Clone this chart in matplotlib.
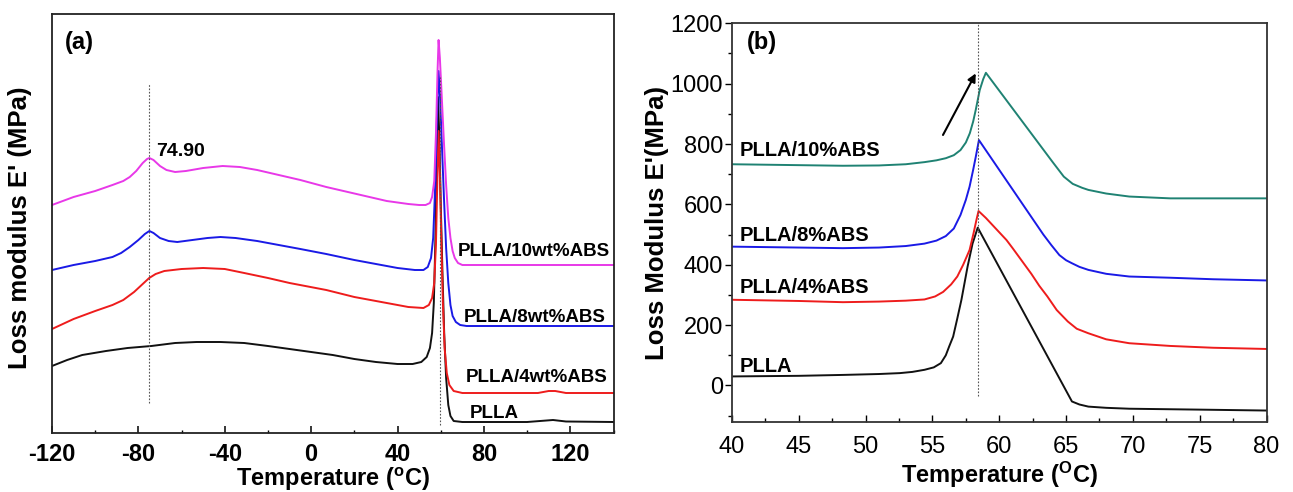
import matplotlib
matplotlib.use("Agg")
import matplotlib.pyplot as plt
from matplotlib.ticker import MultipleLocator

plt.rcParams['font.family'] = ['Liberation Sans', 'DejaVu Sans']
plt.rcParams['mathtext.fontset'] = 'custom'
plt.rcParams['mathtext.rm'] = 'Liberation Sans:bold'
plt.rcParams['mathtext.it'] = 'Liberation Sans:bold'
plt.rcParams['mathtext.bf'] = 'Liberation Sans:bold'

# ---------------- Panel (a) data (arbitrary units) ----------------
a_pllaT = [-120, -113, -106, -95, -85, -74, -63, -53, -42, -31, -20, -10, 0, 10, 20, 30, 40, 47,
           51, 53.5, 55, 56, 56.8, 57.5, 58.1, 58.7, 59.3, 60, 60.8, 61.6, 62.5, 63.5, 64.5, 66,
           70, 100, 106, 112, 118, 140]
a_pllaY = [67, 73, 78, 82, 85, 87, 90, 91, 91, 90, 87, 84, 81, 78, 74, 71, 69, 69,
           71, 76, 85, 100, 130, 190, 270, 336, 300, 230, 160, 100, 55, 28, 17, 12,
           11, 11, 12, 13, 11.5, 11]

a_4T = [-120, -110, -100, -92, -87, -82, -78, -75, -72, -68, -60, -50, -40, -31, -20, -10, 7, 20,
        35, 45, 52, 54.5, 56, 57, 57.8, 58.4, 59, 59.6, 60.3, 61, 61.8, 62.8, 64, 66, 70, 105,
        110, 113, 118, 140]
a_4Y = [104, 114, 122, 128, 133, 141, 149, 155, 159, 162, 164, 165, 164, 160, 155, 150, 143, 136,
        130, 126, 125, 128, 135, 150, 190, 250, 302, 260, 190, 130, 85, 60, 48, 42, 40, 40,
        42, 42, 40, 40]

a_8T = [-120, -110, -100, -92, -88, -84, -80, -77, -74.9, -73, -70, -66, -62, -55, -48, -42, -35,
        -25, -15, -5, 7, 20, 30, 40, 48, 52, 54, 55.5, 56.5, 57.5, 58.3, 59, 59.7, 60.5, 61.5,
        62.5, 63.5, 64.5, 65.5, 67, 69, 72, 140]
a_8Y = [163, 168, 172, 176, 180, 186, 193, 199, 202, 200, 195, 192, 191, 193, 195, 196, 195,
        192, 188, 184, 179, 173, 169, 165, 163, 163, 166, 175, 195, 250, 320, 362, 335, 290, 235,
        185, 150, 128, 117, 111, 108, 107, 107]

a_10T = [-120, -110, -100, -92, -87, -84, -81, -78, -76, -74.9, -73, -70, -67, -63, -58, -50, -41,
         -33, -25, -15, -5, 7, 15, 25, 35, 45, 50, 53, 55, 56, 57, 57.8, 58.5, 59, 59.6, 60.5,
         61.5, 62.5, 63.5, 64.5, 65.5, 66.5, 68, 70, 140]
a_10Y = [228, 236, 242, 248, 252, 256, 262, 270, 274, 275, 273, 267, 263, 261, 262, 265, 267,
         266, 263, 258, 253, 246, 242, 237, 232, 229, 228, 228, 230, 236, 252, 300, 360, 393, 375,
         335, 290, 248, 215, 195, 182, 175, 170, 168, 168]

a_xticks = [-120, -80, -40, 0, 40, 80, 120]
a_labels = ['PLLA/10wt%ABS', 'PLLA/8wt%ABS', 'PLLA/4wt%ABS', 'PLLA']
a_labelT = [68.0, 70.5, 71.5, 73.5]
a_labelY = [181, 115, 56, 19]
a_peak_text = '74.90'
a_vlines = [-74.9, 59.5]

# ---------------- Panel (b) data (MPa) ----------------
b_pllaT = [40, 45, 48.3, 51, 52.57, 53.5, 54.41, 55.1, 55.63, 56.0, 56.25, 56.55, 56.85, 57.17,
           57.63, 58.0, 58.39, 65.44, 66.0, 66.67, 68, 69.73, 75, 80]
b_pllaY = [30, 32, 35, 38, 41, 45, 52, 60, 74, 100, 129, 162, 220, 284,
           394, 470, 523, -53, -63, -70, -74, -77, -80, -83]

b_4T = [40, 45, 48.3, 51, 53, 54.4, 55.2, 55.8, 56.4, 56.86, 57.3, 57.78, 58.08, 58.3, 58.45,
        59.0, 60.54, 61.0, 61.61, 62.4, 63.0, 63.6, 64.3, 65.13, 65.8, 66.67, 68, 69.73, 72.8,
        76, 80]
b_4Y = [284, 280, 276, 278, 281, 285, 295, 310, 335, 361, 400, 449, 505, 550, 578,
        555, 482, 455, 418, 370, 330, 295, 250, 212, 188, 173, 153, 140, 131,
        125, 121]

b_8T = [40, 45, 48.3, 51, 53, 54.4, 55.3, 56, 56.6, 57.1, 57.5, 57.78, 58.05, 58.24, 58.48,
        63.3, 63.9, 64.5, 65.0, 65.44, 66.0, 66.67, 68, 69.73, 72.8, 76, 80]
b_8Y = [460, 457, 455, 457, 462, 470, 480, 495, 520, 565, 615, 659, 715, 757, 813,
        500, 465, 432, 415, 405, 393, 383, 370, 361, 357, 352, 348]

b_10T = [40, 45, 48.3, 51, 53, 54.4, 55.3, 56, 56.6, 57.1, 57.5, 57.8, 58.05, 58.24, 58.54,
         58.8, 59.0, 64.0, 64.83, 65.5, 66.2, 66.67, 68, 69.73, 72.8, 80]
b_10Y = [733, 730, 728, 729, 733, 740, 746, 753, 763, 780, 805, 836, 875, 913, 979,
         1015, 1036, 740, 692, 668, 655, 648, 636, 626, 620, 620]

b_labels = ['PLLA/10%ABS', 'PLLA/8%ABS', 'PLLA/4%ABS', 'PLLA']
b_labelY = [777, 496, 323, 62]
b_yticks = [0, 200, 400, 600, 800, 1000, 1200]
b_vline = 58.39
b_arrow_from = (55.79, 830)
b_arrow_to = (58.24, 1034)

c_black = '#111111'
c_red = '#EE1C1C'
c_blue = '#1A1AE6'
c_mag = '#E838E8'
c_teal = '#1F8273'

fig = plt.figure(figsize=(12.93, 4.92), dpi=100)

# ================= Panel (a) =================
axa = fig.add_axes([52/1293, 1-433/492, 561.5/1293, 419/492])
lw = 1.4
axa.plot(a_pllaT, a_pllaY, color=c_black, lw=lw)
axa.plot(a_4T, a_4Y, color=c_red, lw=lw)
axa.plot(a_8T, a_8Y, color=c_blue, lw=lw)
axa.plot(a_10T, a_10Y, color=c_mag, lw=lw)
axa.plot([a_vlines[0]]*2, [30, 350], color='#555555', lw=0.8, ls=(0, (1.5, 1.5)))
axa.plot([a_vlines[1]]*2, [8, 356], color='#555555', lw=0.8, ls=(0, (1.5, 1.5)))
axa.set_xlim(-120, 140)
axa.set_ylim(0, 419)
axa.set_xticks(a_xticks)
axa.set_xticklabels([str(v) for v in a_xticks], fontweight='bold', fontsize=17)
axa.xaxis.set_minor_locator(MultipleLocator(20))
axa.set_yticks([])
axa.tick_params(axis='x', which='major', direction='in', length=5, width=1.1, pad=7)
axa.tick_params(axis='x', which='minor', direction='in', length=2.5, width=1.0)
for s in axa.spines.values():
    s.set_linewidth(1.3)
    s.set_color('#222222')
axa.set_xlabel(r'Temperature ($^{\mathrm{o}}$C)', fontsize=17, fontweight='bold')
axa.xaxis.set_label_coords(0.5, -0.079)
axa.xaxis.label.set_va('top')
axa.set_ylabel("Loss modulus E' (MPa)", fontsize=18.5, fontweight='bold')
axa.yaxis.set_label_coords(-0.035, 0.49)
axa.text(-114, 390, '(a)', fontsize=17, fontweight='bold', va='center', ha='left')
axa.text(-72, 281, a_peak_text, fontsize=14, fontweight='bold', va='center', ha='left')
for t, x, y in zip(a_labels, a_labelT, a_labelY):
    axa.text(x, y, t, fontsize=13.5, fontweight='bold', va='center', ha='left')

# ================= Panel (b) =================
axb = fig.add_axes([732/1293, 1-421.7/492, 534.5/1293, 398.4/492])
axb.plot(b_pllaT, b_pllaY, color=c_black, lw=lw)
axb.plot(b_4T, b_4Y, color=c_red, lw=lw)
axb.plot(b_8T, b_8Y, color=c_blue, lw=lw)
axb.plot(b_10T, b_10Y, color=c_teal, lw=lw)
axb.plot([b_vline]*2, [-36, 1200], color='#555555', lw=0.8, ls=(0, (1.5, 1.5)))
axb.annotate('', xy=b_arrow_to, xytext=b_arrow_from,
             arrowprops=dict(arrowstyle='-|>', color='black', lw=1.5, mutation_scale=12,
                             shrinkA=0, shrinkB=0))
axb.set_xlim(40, 80)
axb.set_ylim(-120, 1200)
axb.xaxis.set_major_locator(MultipleLocator(5))
axb.xaxis.set_minor_locator(MultipleLocator(2.5))
axb.set_yticks(b_yticks)
axb.yaxis.set_minor_locator(MultipleLocator(100))
axb.tick_params(axis='x', which='major', direction='in', length=5, width=1.0, pad=10,
                labelsize=17)
axb.tick_params(axis='x', which='minor', direction='in', length=3, width=1.0)
axb.tick_params(axis='y', which='major', direction='out', length=5, width=1.0, pad=1.5,
                labelsize=17)
axb.tick_params(axis='y', which='minor', direction='out', length=3, width=1.0)
for s in axb.spines.values():
    s.set_linewidth(1.3)
    s.set_color('#333333')
axb.set_xlabel(r'Temperature ($^{\mathrm{O}}$C)', fontsize=17, fontweight='bold')
axb.xaxis.set_label_coords(0.5, -0.096)
axb.xaxis.label.set_va('top')
axb.set_ylabel("Loss Modulus E'(MPa)", fontsize=18.5, fontweight='bold')
axb.yaxis.set_label_coords(-0.117, 0.5)
axb.text(41.1, 1135, '(b)', fontsize=17, fontweight='bold', va='center', ha='left')
for t, y in zip(b_labels, b_labelY):
    axb.text(40.6, y, t, fontsize=14.5, fontweight='bold', va='center', ha='left')

fig.savefig('out.png', dpi=100)
